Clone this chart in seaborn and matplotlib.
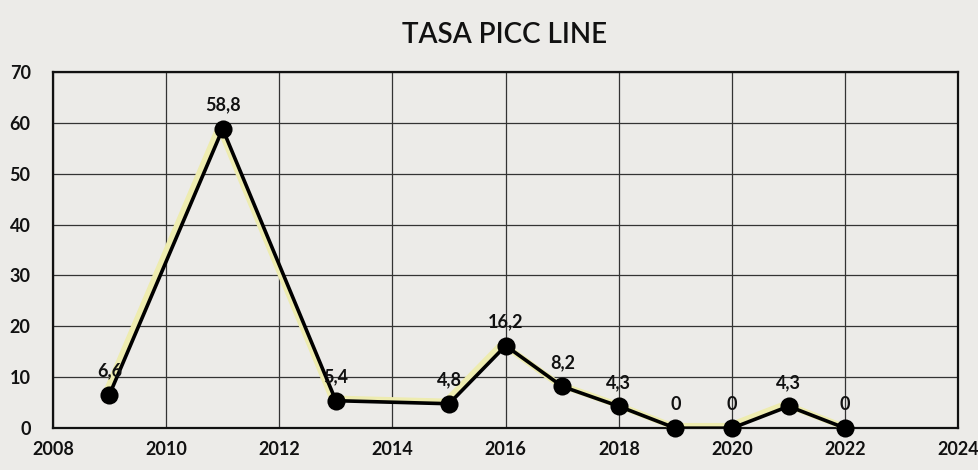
import matplotlib
matplotlib.use("Agg")
import matplotlib.pyplot as plt
import matplotlib.patheffects as pe
import seaborn as sns
import pandas as pd

years = [2009, 2011, 2013, 2015, 2016, 2017, 2018, 2019, 2020, 2021, 2022]
rates = [6.6, 58.8, 5.4, 4.8, 16.2, 8.2, 4.3, 0, 0, 4.3, 0]
labels = ["6,6", "58,8", "5,4", "4,8", "16,2", "8,2", "4,3", "0", "0", "4,3", "0"]
x_ticks = [2008, 2010, 2012, 2014, 2016, 2018, 2020, 2022, 2024]
y_ticks = [0, 10, 20, 30, 40, 50, 60, 70]
title = "TASA PICC LINE"

sns.set_theme(style="white")
plt.rcParams['font.family'] = ['Lato', 'DejaVu Sans']

bg = "#ecebe8"
fig = plt.figure(figsize=(9.79, 4.70), dpi=100, facecolor=bg)
ax = fig.add_axes([0.054, 0.089, 0.925, 0.758])
ax.set_facecolor(bg)

df = pd.DataFrame({"year": years, "rate": rates})
sns.lineplot(data=df, x="year", y="rate", ax=ax, color="black", linewidth=2.6,
             zorder=5,
             path_effects=[pe.SimpleLineShadow(offset=(-2.5, 1.5), shadow_color="#eeecb0",
                                               alpha=1.0, linewidth=4.5),
                           pe.Normal()])
sns.scatterplot(data=df, x="year", y="rate", ax=ax, color="black", s=170,
                edgecolor="black", linewidth=0, zorder=6, legend=False,
                clip_on=False)

for x, y, t in zip(years, rates, labels):
    ax.annotate(t, (x, y), xytext=(0, 11), textcoords="offset points",
                ha="center", va="bottom", fontsize=13, fontweight="bold",
                color="#111111", zorder=10)

ax.set_xlim(2008, 2024)
ax.set_ylim(0, 70)
ax.set_xticks(x_ticks)
ax.set_yticks(y_ticks)
ax.set_xticklabels([str(v) for v in x_ticks], fontsize=13, fontweight="bold", color="#111111")
ax.set_yticklabels([str(v) for v in y_ticks], fontsize=13, fontweight="bold", color="#111111")
ax.tick_params(axis="x", pad=9, length=0)
ax.tick_params(axis="y", pad=16, length=0)
ax.grid(True, color="#333333", linewidth=0.9)
ax.set_axisbelow(True)
for s in ax.spines.values():
    s.set_visible(True)
    s.set_color("#111111")
    s.set_linewidth(1.6)
ax.set_xlabel("")
ax.set_ylabel("")
fig.text(0.515, 0.925, title, ha="center", va="center", fontsize=20,
         fontweight="semibold", color="#111111")

fig.savefig("out.png", dpi=100, facecolor=bg)
